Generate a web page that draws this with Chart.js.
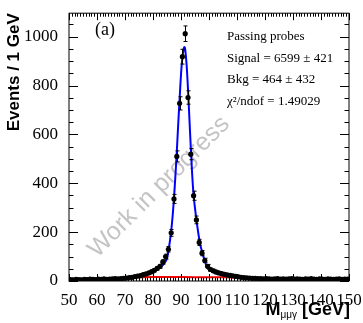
<!DOCTYPE html>
<html>
<head>
<meta charset="utf-8">
<script src="https://cdn.jsdelivr.net/npm/chart.js@4.4.1/dist/chart.umd.min.js"></script>
<style>
  html, body { margin: 0; padding: 0; background: #fff; }
  canvas { display: block; }
</style>
</head>
<body>
<canvas id="zfit" width="363" height="323"></canvas>
<script>
// events per 1 GeV bin, first bin starts at 50 GeV
const binStart = 50;
const binWidth = 1;
const counts = [
  6, 5, 7, 6, 5, 7, 6, 8, 7, 6,
  8, 7, 9, 7, 8, 9, 10, 9, 10, 11,
  12, 14, 15, 18, 20, 22, 26, 29, 33, 38,
  44, 52, 60, 78, 100, 130, 197, 336, 510, 727,
  918, 1012, 751, 519, 349, 250, 158, 114, 84, 60,
  47, 42, 37, 33, 30, 27, 25, 23, 21, 19,
  17, 15, 14, 13, 12, 11, 11, 10, 10, 9,
  10, 9, 8, 9, 10, 8, 9, 8, 9, 10,
  8, 9, 8, 7, 9, 8, 10, 8, 7, 9,
  8, 7, 9, 8, 7, 8, 9, 7, 8, 8
];

// total fit (blue)
const fitX = [50, 60, 65, 70, 72, 74, 76, 78, 80, 81, 82, 83, 84, 85, 86, 86.5, 87, 87.5, 88, 88.5,
  89, 89.5, 90, 90.5, 91, 91.25, 91.5, 92, 92.5, 93, 93.5, 94, 94.5, 95, 95.5, 96, 96.5, 97, 97.5,
  98, 98.5, 99, 99.5, 100, 101, 102, 104, 106, 108, 110, 113, 116, 120, 130, 150];
const fitY = [6, 7, 8, 11, 14, 17, 22, 28, 36, 42, 50, 60, 72, 92, 160, 205, 265, 340, 430, 530,
  640, 745, 845, 915, 952, 957, 948, 885, 785, 665, 545, 435, 350, 298, 252, 210, 172, 142, 122,
  100, 82, 65, 53, 46, 39, 33, 28, 24, 20, 17, 13, 11, 10, 9, 8];

// background component (red)
const bkgX = [50, 60, 65, 70, 73, 75, 80, 90, 100, 105, 110, 112, 115, 120, 130, 150];
const bkgY = [0, 1, 3, 8, 13, 15, 16, 16, 15, 15, 14, 12, 8, 4, 1, 0];

const xTicks = [50, 60, 70, 80, 90, 100, 110, 120, 130, 140, 150];
const yTicks = [0, 200, 400, 600, 800, 1000];

const label = '(a)';
const infoLines = ['Passing probes', 'Signal = 6599 \u00b1 421', 'Bkg = 464 \u00b1 432', '\u03c7\u00b2/ndof = 1.49029'];
const watermark = 'Work in progress';

const serif = '"Liberation Serif", "Times New Roman", serif';
const sans = '"Liberation Sans", Arial, sans-serif';

const dataPoints = counts.map((c, i) => ({ x: binStart + (i + 0.5) * binWidth, y: c }));
const fitPoints = fitX.map((x, i) => ({ x: x, y: fitY[i] }));
const bkgPoints = bkgX.map((x, i) => ({ x: x, y: bkgY[i] }));

// watermark under the data
const watermarkPlugin = {
  id: 'watermark',
  beforeDatasetsDraw(chart) {
    const ctx = chart.ctx;
    ctx.save();
    ctx.translate(159, 187);
    ctx.rotate(-45 * Math.PI / 180);
    ctx.font = '25px ' + sans;
    ctx.fillStyle = '#c4c4c4';
    ctx.textAlign = 'center';
    ctx.textBaseline = 'middle';
    ctx.fillText(watermark, 0, 0);
    ctx.restore();
  }
};

// poisson error bars on the data
const errorBarPlugin = {
  id: 'errorBars',
  afterDatasetsDraw(chart) {
    const ctx = chart.ctx;
    const xs = chart.scales.x;
    const ys = chart.scales.y;
    const area = chart.chartArea;
    ctx.save();
    ctx.beginPath();
    ctx.rect(area.left, area.top, area.right - area.left, area.bottom - area.top);
    ctx.clip();
    ctx.strokeStyle = '#000';
    ctx.lineWidth = 1;
    dataPoints.forEach(p => {
      const err = Math.sqrt(p.y);
      const px = Math.round(xs.getPixelForValue(p.x)) + 0.5;
      const py = ys.getPixelForValue(p.y);
      const top = ys.getPixelForValue(p.y + err);
      const bot = ys.getPixelForValue(Math.max(p.y - err, 0));
      ctx.beginPath();
      ctx.moveTo(px, top);
      ctx.lineTo(px, bot);
      ctx.moveTo(px - 2, top);
      ctx.lineTo(px + 2, top);
      ctx.moveTo(px - 2, bot);
      ctx.lineTo(px + 2, bot);
      ctx.moveTo(xs.getPixelForValue(p.x - binWidth / 2), py);
      ctx.lineTo(xs.getPixelForValue(p.x + binWidth / 2), py);
      ctx.stroke();
    });
    ctx.restore();
  }
};

// ROOT style frame: ticks on all four sides, pointing in, plus titles and text
const framePlugin = {
  id: 'frame',
  afterDraw(chart) {
    const ctx = chart.ctx;
    const xs = chart.scales.x;
    const ys = chart.scales.y;
    const { left, right, top, bottom } = chart.chartArea;
    ctx.save();
    ctx.strokeStyle = '#000';
    ctx.lineWidth = 1;
    ctx.strokeRect(left, top, right - left, bottom - top);

    ctx.beginPath();
    for (let v = xs.min; v <= xs.max; v += 1) {
      const px = Math.round(xs.getPixelForValue(v)) + 0.5;
      const len = xTicks.includes(v) ? 7 : 3.5;
      ctx.moveTo(px, bottom);
      ctx.lineTo(px, bottom - len);
      ctx.moveTo(px, top);
      ctx.lineTo(px, top + len);
    }
    for (let v = 0; v <= ys.max; v += 50) {
      const py = Math.round(ys.getPixelForValue(v)) + 0.5;
      const len = yTicks.includes(v) ? 9 : 4.5;
      ctx.moveTo(left, py);
      ctx.lineTo(left + len, py);
      ctx.moveTo(right, py);
      ctx.lineTo(right - len, py);
    }
    ctx.stroke();

    ctx.fillStyle = '#000';
    ctx.textBaseline = 'alphabetic';
    ctx.textAlign = 'left';
    ctx.font = '18px ' + serif;
    ctx.fillText(label, 95, 35);

    ctx.font = '13px ' + serif;
    infoLines.forEach((t, i) => ctx.fillText(t, 227, 40 + i * 21.7));

    // x title: M with subscript
    const bigFont = 'bold 18px ' + sans;
    const subFont = '10px ' + sans;
    const tail = ' [GeV]';
    const sub = '\u03bc\u03bc\u03b3';
    ctx.font = bigFont;
    const wTail = ctx.measureText(tail).width;
    const wM = ctx.measureText('M').width;
    ctx.font = subFont;
    const wSub = ctx.measureText(sub).width;
    let x0 = 350 - wTail - wSub - wM;
    const base = 315;
    ctx.font = bigFont;
    ctx.fillText('M', x0, base);
    ctx.font = subFont;
    ctx.fillText(sub, x0 + wM, base + 3);
    ctx.font = bigFont;
    ctx.fillText(tail, x0 + wM + wSub, base);
    ctx.restore();
  }
};

new Chart('zfit', {
  type: 'scatter',
  data: {
    datasets: [{
      label: 'Data',
      data: dataPoints,
      showLine: false,
      pointRadius: 2.6,
      pointBackgroundColor: '#000',
      pointBorderWidth: 0
    }, {
      label: 'Fit',
      data: fitPoints,
      showLine: true,
      borderColor: '#0000ff',
      borderWidth: 2,
      pointRadius: 0,
      tension: 0.3
    }, {
      label: 'Background',
      data: bkgPoints,
      showLine: true,
      borderColor: '#ff0000',
      borderWidth: 2,
      pointRadius: 0,
      tension: 0.2
    }]
  },
  options: {
    responsive: false,
    animation: false,
    layout: { padding: { left: 0, right: 14, top: 9, bottom: 0 } },
    plugins: {
      legend: { display: false },
      tooltip: { enabled: false }
    },
    scales: {
      x: {
        type: 'linear',
        min: 50,
        max: 150,
        grid: { display: false },
        border: { display: false },
        afterBuildTicks: scale => { scale.ticks = xTicks.map(v => ({ value: v })); },
        afterFit: scale => { scale.height = 42; },
        ticks: {
          autoSkip: false,
          maxRotation: 0,
          padding: 1,
          color: '#000',
          font: { family: serif, size: 17 },
          callback: v => String(v)
        }
      },
      y: {
        type: 'linear',
        min: 0,
        max: 1096,
        grid: { display: false },
        border: { display: false },
        afterBuildTicks: scale => { scale.ticks = yTicks.map(v => ({ value: v })); },
        afterFit: scale => { scale.width = 69; },
        ticks: {
          autoSkip: false,
          padding: 3,
          color: '#000',
          font: { family: serif, size: 17 },
          callback: v => String(v)
        },
        title: {
          display: true,
          text: 'Events / 1 GeV',
          align: 'end',
          color: '#000',
          padding: { top: 6, bottom: 0 },
          font: { family: sans, size: 17, weight: 'bold', lineHeight: 1 }
        }
      }
    }
  },
  plugins: [watermarkPlugin, errorBarPlugin, framePlugin]
});
</script>
</body>
</html>
